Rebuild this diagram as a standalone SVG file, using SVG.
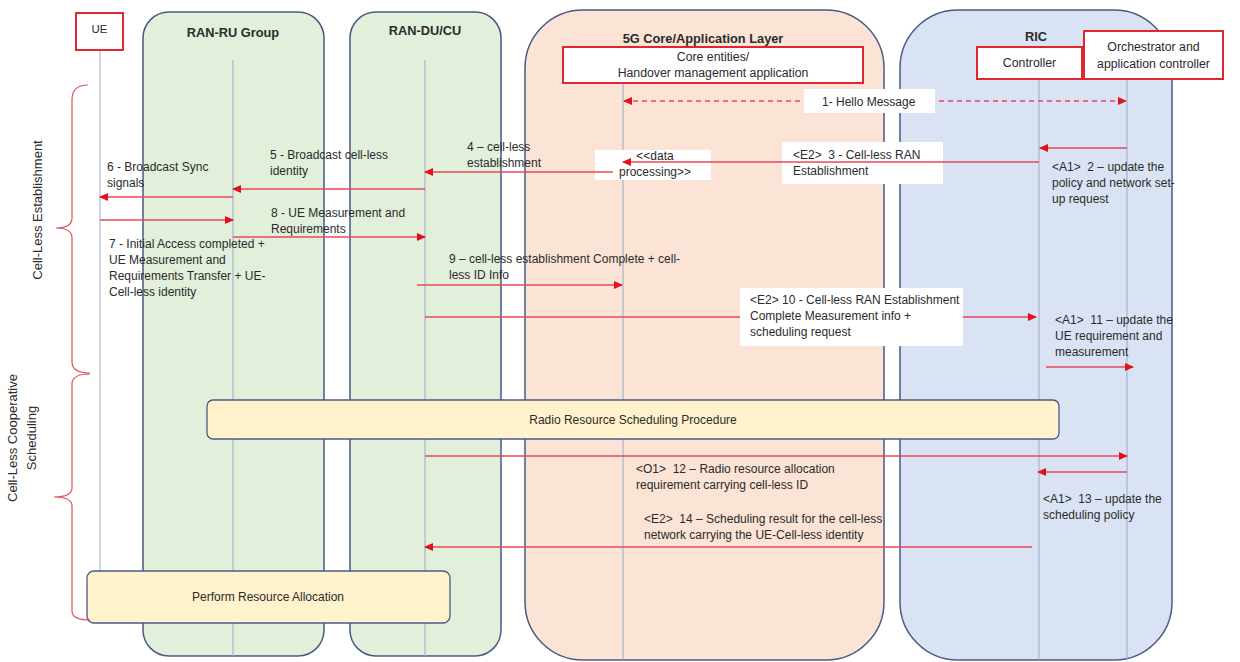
<svg xmlns="http://www.w3.org/2000/svg" width="1240" height="662" viewBox="0 0 1240 662">
  <defs>
    <marker id="head" markerWidth="9" markerHeight="8" refX="8" refY="4" orient="auto" markerUnits="userSpaceOnUse">
      <path d="M0,0 L9,4 L0,8 Z" fill="#e3101e"/>
    </marker>
    <marker id="headStart" markerWidth="9" markerHeight="8" refX="1" refY="4" orient="auto" markerUnits="userSpaceOnUse">
      <path d="M9,0 L0,4 L9,8 Z" fill="#e3101e"/>
    </marker>
  </defs>
  <style>
    text { font-family: "Liberation Sans", Arial, sans-serif; fill: #2b2b2b; }
    .lane { stroke: #4a5a86; stroke-width: 1.5; }
    .ru { fill: #e2efda; }
    .core { fill: #fbe3d6; }
    .ric { fill: #dae3f3; }
    .title { font-size: 12.8px; font-weight: bold; text-anchor: middle; }
    .actor { fill: #ffffff; stroke: #e0262f; stroke-width: 2; }
    .actorText { font-size: 12.3px; text-anchor: middle; }
    .life { stroke: #9aaac8; stroke-width: 1; }
    .msg { stroke: #e8495a; stroke-width: 1.3; fill: none; marker-end: url(#head); }
    .dash { stroke: #e8495a; stroke-width: 1.3; fill: none; stroke-dasharray: 5 4; }
    .lbl { font-size: 12px; white-space: pre; }
    .mid { text-anchor: middle; }
    .note { fill: #ffffff; }
    .proc { fill: #fff2cc; stroke: #4a5a86; stroke-width: 1.3; }
    .procText { font-size: 12px; text-anchor: middle; }
    .brace { stroke: #e0505a; stroke-width: 1.2; fill: none; }
    .phase { font-size: 13px; text-anchor: middle; }
  </style>

  <!-- swimlanes -->
  <g id="lane-ran-ru">
    <rect class="lane ru" x="143" y="12" width="181" height="644" rx="26"/>
    <text class="title" x="233" y="37">RAN-RU Group</text>
  </g>
  <g id="lane-ran-du">
    <rect class="lane ru" x="350" y="12" width="151" height="644" rx="26"/>
    <text class="title" x="425" y="35">RAN-DU/CU</text>
  </g>
  <g id="lane-core">
    <rect class="lane core" x="525" y="10" width="359" height="650" rx="58"/>
    <text class="title" x="703" y="43">5G Core/Application Layer</text>
  </g>
  <g id="lane-ric">
    <rect class="lane ric" x="900" y="10" width="272" height="650" rx="58"/>
    <text class="title" x="1036" y="41">RIC</text>
  </g>

  <!-- lifelines -->
  <g id="lifelines">
    <line class="life" x1="100" y1="50" x2="100" y2="622"/>
    <line class="life" x1="233" y1="60" x2="233" y2="656"/>
    <line class="life" x1="425" y1="60" x2="425" y2="656"/>
    <line class="life" x1="623" y1="82" x2="623" y2="660"/>
    <line class="life" x1="1039" y1="79" x2="1039" y2="660"/>
    <line class="life" x1="1127" y1="79" x2="1127" y2="660"/>
  </g>

  <!-- actors -->
  <g id="ue">
    <rect class="actor" x="76" y="13" width="47" height="37"/>
    <text class="actorText" x="99.5" y="33" style="font-size:11.5px">UE</text>
  </g>
  <g id="core-entities">
    <rect class="actor" x="563" y="47" width="300" height="36"/>
    <text class="actorText" x="713" y="61">Core entities/</text>
    <text class="actorText" x="713" y="77">Handover management application</text>
  </g>
  <g id="controller">
    <rect class="actor" x="977" y="47" width="105" height="32"/>
    <text class="actorText" x="1029.5" y="67">Controller</text>
  </g>
  <g id="orchestrator">
    <rect class="actor" x="1084" y="31" width="139" height="48"/>
    <text class="actorText" x="1153.5" y="51">Orchestrator and</text>
    <text class="actorText" x="1153.5" y="68">application controller</text>
  </g>

  <!-- label backgrounds drawn beneath the message lines -->
  <g id="notes-under">
    <rect class="note" x="782" y="142" width="161" height="42"/>
    <rect class="note" x="595" y="150" width="116" height="30"/>
  </g>

  <!-- message connectors -->
  <g id="connectors">
    <line class="dash" x1="624" y1="101" x2="1126" y2="101" marker-start="url(#headStart)" marker-end="url(#head)"/>
    <line class="msg" x1="1127" y1="148" x2="1040" y2="148"/>
    <line class="msg" x1="1039" y1="162" x2="623" y2="162"/>
    <line class="msg" x1="613" y1="172" x2="425" y2="172"/>
    <line class="msg" x1="425" y1="189" x2="233" y2="189"/>
    <line class="msg" x1="233" y1="197" x2="100" y2="197"/>
    <line class="msg" x1="100" y1="220" x2="233" y2="220"/>
    <line class="msg" x1="233" y1="237" x2="425" y2="237"/>
    <line class="msg" x1="417" y1="285" x2="622" y2="285"/>
    <line class="msg" x1="425" y1="317" x2="1036" y2="317"/>
    <line class="msg" x1="1046" y1="367" x2="1133" y2="367"/>
    <line class="msg" x1="425" y1="456" x2="1127" y2="456"/>
    <line class="msg" x1="1127" y1="472" x2="1038" y2="472"/>
    <line class="msg" x1="1032" y1="547" x2="425" y2="547"/>
  </g>

  <!-- label backgrounds drawn over the message lines -->
  <g id="notes-over">
    <rect class="note" x="804" y="89" width="131" height="24"/>
    <rect class="note" x="740" y="288" width="223" height="58"/>
  </g>

  <!-- message labels -->
  <g id="labels">
    <text class="lbl" x="822" y="106">1- Hello Message</text>
    <text class="lbl" x="1052" y="171">&lt;A1&gt;  2 – update the</text>
    <text class="lbl" x="1052" y="187">policy and network set-</text>
    <text class="lbl" x="1052" y="203">up request</text>
    <text class="lbl" x="793" y="159">&lt;E2&gt;  3 - Cell-less RAN</text>
    <text class="lbl" x="793" y="175">Establishment</text>
    <text class="lbl mid" x="655" y="160">&lt;&lt;data</text>
    <text class="lbl mid" x="655" y="176">processing&gt;&gt;</text>
    <text class="lbl" x="467" y="151">4 – cell-less</text>
    <text class="lbl" x="467" y="167">establishment</text>
    <text class="lbl" x="270" y="159">5 - Broadcast cell-less</text>
    <text class="lbl" x="270" y="175">identity</text>
    <text class="lbl" x="107" y="171">6 - Broadcast Sync</text>
    <text class="lbl" x="107" y="187">signals</text>
    <text class="lbl" x="109" y="248">7 - Initial Access completed +</text>
    <text class="lbl" x="109" y="264">UE Measurement and</text>
    <text class="lbl" x="109" y="280">Requirements Transfer + UE-</text>
    <text class="lbl" x="109" y="296">Cell-less identity</text>
    <text class="lbl" x="271" y="217">8 - UE Measurement and</text>
    <text class="lbl" x="271" y="233">Requirements</text>
    <text class="lbl" x="449" y="263">9 – cell-less establishment Complete + cell-</text>
    <text class="lbl" x="449" y="279">less ID Info</text>
    <text class="lbl" x="750" y="304">&lt;E2&gt; 10 - Cell-less RAN Establishment</text>
    <text class="lbl" x="750" y="320">Complete Measurement info +</text>
    <text class="lbl" x="750" y="336">scheduling request</text>
    <text class="lbl" x="1055" y="324">&lt;A1&gt;  11 – update the</text>
    <text class="lbl" x="1055" y="340">UE requirement and</text>
    <text class="lbl" x="1055" y="356">measurement</text>
    <text class="lbl" x="636" y="473">&lt;O1&gt;  12 – Radio resource allocation</text>
    <text class="lbl" x="636" y="489">requirement carrying cell-less ID</text>
    <text class="lbl" x="1043" y="503">&lt;A1&gt;  13 – update the</text>
    <text class="lbl" x="1043" y="519">scheduling policy</text>
    <text class="lbl" x="644" y="523">&lt;E2&gt;  14 – Scheduling result for the cell-less</text>
    <text class="lbl" x="644" y="539">network carrying the UE-Cell-less identity</text>
  </g>

  <!-- procedure boxes -->
  <g id="radio-resource-scheduling">
    <rect class="proc" x="207" y="400" width="852" height="39" rx="6"/>
    <text class="procText" x="633" y="424">Radio Resource Scheduling Procedure</text>
  </g>
  <g id="perform-resource-allocation">
    <rect class="proc" x="87" y="571" width="363" height="52" rx="7"/>
    <text class="procText" x="268" y="601">Perform Resource Allocation</text>
  </g>

  <!-- phase brackets -->
  <g id="phase-establishment">
    <path class="brace" d="M88,85 Q72,85 72,100 L72,218 Q72,228 56,228 Q72,228 72,238 L72,362 Q72,373 90,373"/>
    <text class="phase" transform="translate(42,210) rotate(-90)">Cell-Less Establishment</text>
  </g>
  <g id="phase-scheduling">
    <path class="brace" d="M90,374 Q72,374 72,384 L72,488 Q72,497 54,497 Q72,497 72,506 L72,611 Q72,620 90,620"/>
    <text class="phase" transform="translate(17,438) rotate(-90)">Cell-Less Cooperative</text>
    <text class="phase" transform="translate(36,438) rotate(-90)">Scheduling</text>
  </g>
</svg>
